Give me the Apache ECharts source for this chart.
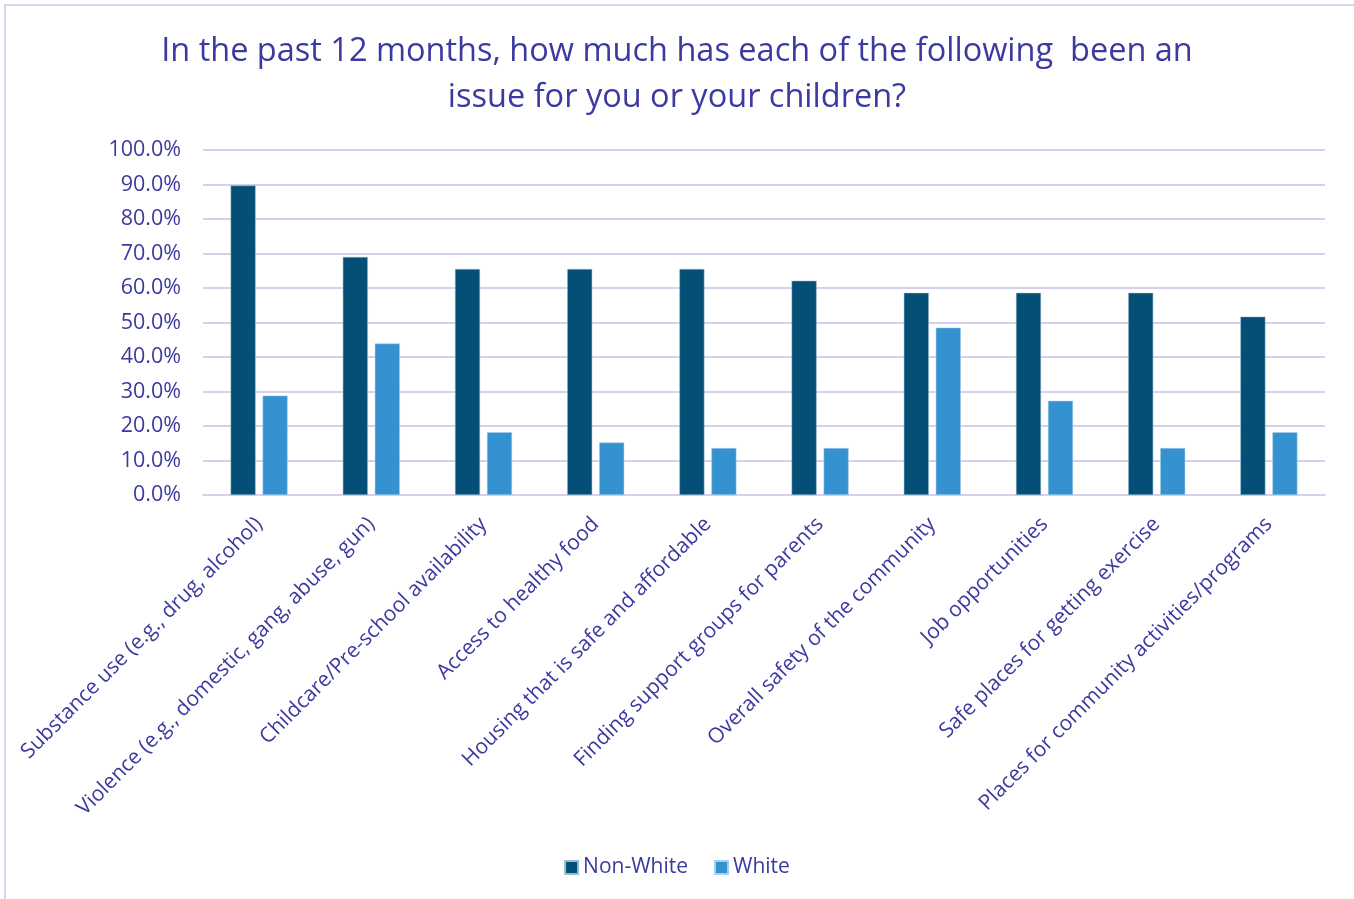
<!DOCTYPE html>
<html>
<head>
<meta charset="utf-8">
<script src="https://cdn.jsdelivr.net/npm/echarts@6/dist/echarts.min.js"></script>
<style>
  html, body { margin: 0; padding: 0; background: #fff; }
  #chart { width: 1354px; height: 899px; }
</style>
</head>
<body>
<div id="chart"></div>
<script>
// categories and values (percent)
const categories = [
  'Substance use (e.g., drug, alcohol)',
  'Violence (e.g., domestic, gang, abuse, gun)',
  'Childcare/Pre-school availability',
  'Access to healthy food',
  'Housing that is safe and affordable',
  'Finding support groups for parents',
  'Overall safety of the community',
  'Job opportunities',
  'Safe places for getting exercise',
  'Places for community activities/programs'
]
const nonWhite = [89.7, 69.0, 65.5, 65.5, 65.5, 62.1, 58.6, 58.6, 58.6, 51.7]
const white = [28.8, 43.9, 18.2, 15.2, 13.6, 13.6, 48.5, 27.3, 13.6, 18.2]
const titleLines = [
  'In the past 12 months, how much has each of the following  been an',
  'issue for you or your children?'
]

const textColor = '#3b3aa0'
const fontFamily = '"Open Sans", sans-serif'

const chart = echarts.init(document.getElementById('chart'))

chart.setOption({
  animation: false,
  textStyle: { fontFamily: fontFamily },
  // 两行标题分开放，保证每行都居中
  title: titleLines.map((t, i) => ({
    text: t,
    left: 'center',
    top: 30 + i * 46,
    textStyle: {
      color: textColor,
      fontSize: 32.5,
      fontWeight: 'normal',
      fontFamily: fontFamily
    }
  })),
  legend: {
    bottom: 16,
    left: 'center',
    itemWidth: 13,
    itemHeight: 13,
    itemGap: 26,
    icon: 'rect',
    textStyle: { color: textColor, fontSize: 21, fontFamily: fontFamily },
    data: ['Non-White', 'White']
  },
  grid: {
    left: 203,
    right: 29,
    top: 150,
    bottom: 404
  },
  xAxis: {
    type: 'category',
    data: categories,
    axisTick: { show: false },
    axisLine: { lineStyle: { color: '#d4d0ee', width: 2 } },
    axisLabel: {
      rotate: 45,
      interval: 0,
      margin: 26,
      color: textColor,
      fontSize: 21,
      fontFamily: fontFamily
    }
  },
  yAxis: {
    type: 'value',
    min: 0,
    max: 100,
    interval: 10,
    axisLine: { show: false },
    axisTick: { show: false },
    splitLine: { lineStyle: { color: '#d4d0ee', width: 2 } },
    axisLabel: {
      formatter: v => v.toFixed(1) + '%',
      color: textColor,
      fontSize: 21.5,
      margin: 22,
      fontFamily: fontFamily
    }
  },
  series: [
    {
      name: 'Non-White',
      type: 'bar',
      data: nonWhite,
      barWidth: 25,
      barGap: '28%',
      itemStyle: { color: '#034f75', borderColor: '#9fb9d4', borderWidth: 0.5 }
    },
    {
      name: 'White',
      type: 'bar',
      data: white,
      barWidth: 25,
      itemStyle: { color: '#3592d0', borderColor: '#a9cfe9', borderWidth: 0.5 }
    }
  ],
  graphic: [
    {
      type: 'rect',
      shape: { x: 5, y: 5, width: 1360, height: 900 },
      style: { fill: 'none', stroke: '#d8d5f0', lineWidth: 2 },
      silent: true
    }
  ]
})
</script>
</body>
</html>
